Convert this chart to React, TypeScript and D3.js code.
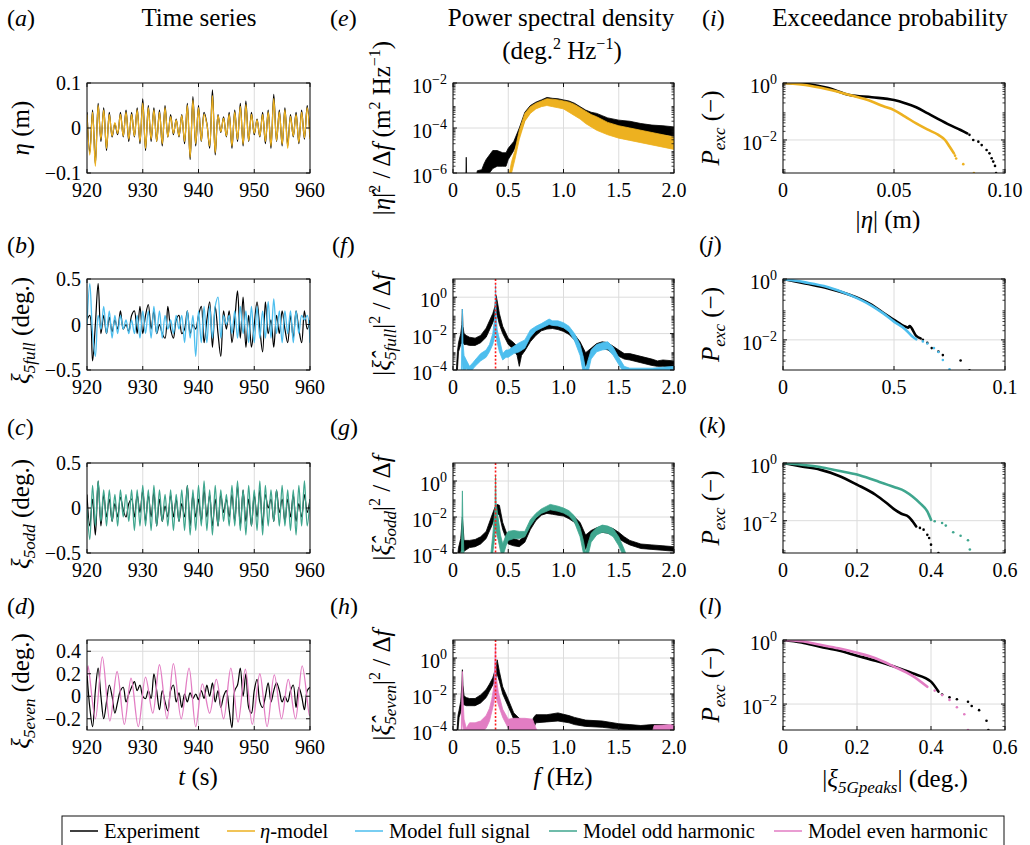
import React from "react";
import * as d3 from "d3";

const FONT = '"Liberation Serif", "DejaVu Serif", "Noto Serif", serif';

const C_EXP = "#000000";
const C_ETA = "#EDB120";
const C_FULL = "#4DBEEE";
const C_ODD = "#3FA68E";
const C_EVEN = "#E27DC3";
const C_RED = "#FF1A1A";

// ---------------- Time series (sampled every 0.5 s from 920 s) ----------------
const T_START = 920;
const T_STEP = 0.5;

const etaExp = [
  0.035, -0.055, 0.04, -0.08, 0.055, -0.03, 0.045, -0.05, 0.035, -0.02,
  0.01, -0.015, 0.035, -0.02, 0.04, -0.03, 0.035, -0.02, 0.045, -0.035,
  0.065, -0.05, 0.05, -0.03, 0.045, -0.03, 0.04, -0.04, 0.05, -0.02,
  0.03, -0.015, 0.02, -0.02, 0.03, -0.035, 0.055, -0.07, 0.07, -0.04,
  0.05, -0.03, 0.035, 0.01, -0.045, 0.085, -0.06, 0.03, -0.01, 0.025,
  -0.02, 0.035, -0.045, 0.04, -0.03, 0.055, -0.04, 0.06, -0.03, 0.035,
  -0.015, 0.02, -0.02, 0.035, -0.035, 0.04, -0.045, 0.075, -0.03, 0.04,
  -0.04, 0.045, -0.04, 0.03, -0.02, 0.035, -0.035, 0.04, -0.025, 0.05,
  -0.02,
];
const etaModel = [
  0.03, -0.06, 0.035, -0.085, 0.05, -0.025, 0.04, -0.045, 0.03, -0.018,
  0.012, -0.012, 0.03, -0.018, 0.035, -0.025, 0.03, -0.018, 0.04, -0.03,
  0.055, -0.045, 0.045, -0.025, 0.04, -0.03, 0.035, -0.035, 0.045, -0.02,
  0.025, -0.012, 0.018, -0.018, 0.028, -0.03, 0.05, -0.065, 0.062, -0.035,
  0.045, -0.028, 0.03, 0.008, -0.04, 0.072, -0.055, 0.028, -0.008, 0.022,
  -0.018, 0.03, -0.04, 0.036, -0.026, 0.048, -0.036, 0.052, -0.028, 0.03,
  -0.012, 0.018, -0.018, 0.03, -0.03, 0.036, -0.04, 0.065, -0.028, 0.036,
  -0.036, 0.04, -0.045, 0.026, -0.018, 0.03, -0.032, 0.035, -0.022, 0.045,
  -0.025,
];
const fullExp = [
  0.05, 0.1, -0.4, 0.0, 0.45, -0.1, 0.1, -0.1, 0.08, -0.08,
  0.05, -0.05, 0.15, -0.05, 0.0, -0.08, 0.1, 0.15, -0.1, 0.2,
  -0.1, 0.1, 0.22, -0.05, 0.15, -0.1, 0.0, -0.1, -0.15, 0.2,
  -0.05, -0.15, 0.05, 0.1, -0.1, -0.05, 0.15, -0.1, 0.0, -0.05,
  0.1, 0.2, -0.2, 0.05, 0.25, -0.25, 0.2, -0.1, -0.35, 0.15,
  -0.05, 0.15, -0.2, 0.05, 0.37, -0.15, 0.3, -0.25, 0.1, -0.25,
  0.0, 0.25, -0.05, -0.3, 0.25, -0.1, 0.05, -0.25, 0.1, -0.1,
  0.15, -0.05, -0.2, 0.1, -0.15, 0.15, -0.05, -0.2, 0.15, -0.05,
  0.05,
];
const fullModel = [
  0.0, 0.45, -0.1, -0.35, 0.1, -0.05, 0.2, -0.1, 0.15, -0.15,
  0.1, -0.1, 0.1, -0.05, 0.05, -0.1, 0.05, -0.1, 0.1, -0.15,
  0.15, -0.1, 0.15, -0.15, 0.2, -0.1, 0.15, -0.15, 0.1, -0.05,
  0.05, -0.1, 0.1, -0.05, 0.1, -0.2, 0.15, -0.15, 0.1, -0.35,
  0.15, -0.2, 0.2, -0.2, 0.2, -0.15, 0.2, 0.3, -0.15, 0.1,
  0.0, 0.1, -0.1, 0.15, -0.15, 0.2, -0.1, 0.15, -0.2, 0.2,
  -0.2, 0.2, -0.15, 0.15, -0.15, 0.25, -0.15, 0.28, -0.1, 0.15,
  -0.2, 0.15, -0.1, 0.15, -0.2, 0.15, -0.1, 0.1, 0.05, 0.1,
  -0.2,
];
const oddExp = [
  0.15, -0.2, 0.1, -0.3, 0.3, -0.2, 0.15, -0.1, 0.1, -0.15,
  0.05, -0.1, 0.12, -0.02, -0.1, 0.05, 0.1, -0.1, 0.15, -0.05,
  0.2, -0.15, 0.15, -0.1, 0.18, -0.2, 0.1, -0.15, 0.02, -0.1,
  0.15, -0.1, 0.1, -0.15, 0.05, -0.1, 0.25, -0.2, 0.15, -0.1,
  0.1, -0.15, 0.2, -0.1, 0.15, -0.2, 0.1, -0.2, 0.15, -0.05,
  0.1, -0.1, 0.15, -0.15, 0.25, -0.2, 0.2, -0.15, 0.1, -0.2,
  0.15, -0.1, 0.2, -0.2, 0.15, 0.0, 0.1, -0.15, 0.2, -0.05,
  0.1, -0.15, 0.1, -0.1, 0.15, -0.15, 0.05, -0.1, 0.15, -0.05,
  0.1,
];
const oddModel = [
  0.0, -0.35, 0.25, -0.2, 0.3, -0.15, 0.2, -0.2, 0.2, -0.15,
  0.15, -0.2, 0.2, -0.1, 0.15, -0.15, 0.2, -0.25, 0.2, -0.2,
  0.25, -0.2, 0.2, -0.25, 0.25, -0.2, 0.2, -0.15, 0.15, -0.2,
  0.2, -0.25, 0.15, -0.15, 0.2, -0.25, 0.25, -0.3, 0.2, -0.25,
  0.25, -0.2, 0.3, -0.25, 0.2, -0.3, 0.25, -0.2, 0.2, -0.15,
  0.15, -0.2, 0.25, -0.2, 0.3, -0.25, 0.2, -0.3, 0.25, -0.2,
  0.2, -0.25, 0.3, -0.3, 0.25, -0.2, 0.2, -0.15, 0.2, -0.2,
  0.25, -0.2, 0.2, -0.25, 0.2, -0.3, 0.25, -0.2, 0.3, -0.2,
  0.1,
];
const evenExp = [
  0.2, -0.1, -0.27, 0.05, 0.25, 0.0, -0.2, -0.05, 0.1, 0.0,
  -0.15, -0.05, 0.05, 0.08, -0.05, 0.02, 0.08, 0.13, 0.05, 0.1,
  0.0, -0.02, 0.05, -0.02, 0.2, 0.05, -0.12, 0.05, -0.05, -0.13,
  0.05, 0.1, -0.05, 0.03, -0.1, 0.02, -0.05, 0.03, -0.02, 0.02,
  -0.03, 0.05, -0.02, 0.1, 0.0, 0.12, -0.05, 0.05, -0.1, 0.0,
  0.05, -0.12, -0.28, 0.05, 0.1, 0.25, 0.0, 0.2, -0.1, -0.15,
  0.05, 0.15, -0.05, -0.1, 0.0, 0.12, -0.05, 0.05, 0.12, 0.05,
  -0.05, 0.0, -0.05, 0.05, 0.1, -0.1, 0.08, 0.0, -0.12, 0.05,
  0.08,
];
// even-harmonic model: peaks and troughs [t (s), value (deg.)]
const evenModel: [number, number][] = [
  [920, 0.18], [920.2, 0.27], [921.5, -0.2], [922.75, 0.35], [924.1, -0.22],
  [925.4, 0.22], [926.7, -0.25], [927.9, 0.16], [929.2, -0.27], [930.5, 0.17],
  [931.8, -0.15], [933.0, 0.28], [934.35, -0.2], [935.5, 0.29], [936.9, -0.2],
  [938.3, 0.25], [939.5, -0.27], [940.7, 0.11], [942.0, -0.15], [943.2, 0.15],
  [944.5, -0.2], [945.8, 0.25], [947.1, -0.23], [948.4, 0.24], [949.65, -0.25],
  [951.0, 0.2], [952.3, -0.27], [953.6, 0.19], [954.9, -0.2], [956.1, 0.15],
  [957.4, -0.2], [958.6, 0.27], [959.9, -0.17], [960, -0.16],
];

// ---------------- PSD bands [f (Hz), log10 lower, log10 upper] ----------------
type Band = [number, number, number][];
const psdEtaExp: Band = [
  [0.0, -6.5, -6.5], [0.115, -6.5, -6.5], [0.12, -6.5, -5.3], [0.125, -6.5, -6.5],
  [0.2, -6.5, -6.5], [0.22, -6.5, -5.9], [0.26, -6.5, -5.85], [0.28, -6.5, -5.6],
  [0.3, -6.2, -5.4], [0.33, -6.0, -5.2], [0.36, -5.8, -5.0], [0.4, -5.7, -5.0],
  [0.45, -5.7, -5.1], [0.48, -5.7, -5.1], [0.5, -5.4, -4.9], [0.55, -5.0, -4.6],
  [0.6, -4.35, -4.0], [0.65, -3.65, -3.3], [0.7, -3.3, -3.0], [0.75, -3.1, -2.85],
  [0.8, -3.0, -2.75], [0.85, -2.95, -2.64], [0.9, -3.0, -2.68], [0.95, -3.0, -2.7],
  [1.0, -3.05, -2.75], [1.05, -3.15, -2.8], [1.1, -3.3, -2.9], [1.15, -3.45, -3.05],
  [1.2, -3.6, -3.2], [1.25, -3.7, -3.3], [1.3, -3.8, -3.35], [1.35, -3.85, -3.45],
  [1.4, -3.95, -3.55], [1.5, -4.05, -3.65], [1.6, -4.1, -3.7], [1.7, -4.2, -3.8],
  [1.8, -4.25, -3.87], [1.9, -4.3, -3.9], [2.0, -4.35, -3.95],
];
const psdEtaModel: Band = [
  [0.51, -6.5, -6.0], [0.53, -6.0, -5.5], [0.56, -5.4, -5.0], [0.6, -4.5, -4.1],
  [0.65, -3.7, -3.35], [0.7, -3.35, -3.05], [0.75, -3.15, -2.9], [0.8, -3.05, -2.8],
  [0.85, -3.0, -2.7], [0.9, -3.05, -2.72], [0.95, -3.1, -2.75], [1.0, -3.15, -2.8],
  [1.05, -3.3, -2.85], [1.1, -3.45, -2.95], [1.15, -3.6, -3.1], [1.2, -3.8, -3.25],
  [1.25, -3.95, -3.4], [1.3, -4.1, -3.5], [1.4, -4.3, -3.75], [1.5, -4.45, -3.9],
  [1.6, -4.55, -4.0], [1.7, -4.65, -4.1], [1.8, -4.75, -4.2], [1.9, -4.85, -4.3],
  [2.0, -4.95, -4.4],
];
const psdFullExp: Band = [
  [0.0, -4.5, -4.5], [0.03, -4.5, -4.1], [0.04, -4.0, -3.0], [0.05, -3.0, -2.5],
  [0.07, -2.6, -2.0], [0.08, -2.5, -1.5], [0.085, -2.4, -0.65], [0.09, -2.5, -1.6],
  [0.1, -2.6, -2.0], [0.12, -2.6, -2.1], [0.15, -2.65, -2.2], [0.2, -2.65, -2.25],
  [0.25, -2.5, -2.1], [0.3, -2.2, -1.7], [0.33, -1.8, -1.3], [0.36, -1.4, -0.9],
  [0.38, -1.1, -0.5], [0.39, -0.9, 0.1], [0.4, -1.0, -0.2], [0.42, -1.5, -0.9],
  [0.45, -2.0, -1.6], [0.5, -2.6, -2.25], [0.55, -2.9, -2.5], [0.58, -3.2, -2.7],
  [0.6, -3.8, -2.9], [0.62, -3.2, -2.8], [0.65, -2.95, -2.6], [0.7, -2.45, -2.05],
  [0.75, -2.1, -1.8], [0.8, -1.85, -1.6], [0.85, -1.75, -1.5], [0.9, -1.72, -1.45],
  [0.95, -1.78, -1.5], [1.0, -1.88, -1.6], [1.05, -2.05, -1.8], [1.1, -2.35, -2.05],
  [1.15, -2.9, -2.45], [1.2, -3.8, -3.05], [1.25, -3.2, -2.8], [1.3, -2.9, -2.55],
  [1.35, -2.8, -2.45], [1.4, -2.9, -2.5], [1.45, -3.1, -2.7], [1.5, -3.25, -2.9],
  [1.55, -3.4, -3.1], [1.6, -3.45, -3.1], [1.7, -3.6, -3.25], [1.8, -3.75, -3.4],
  [1.85, -3.8, -3.5], [1.9, -3.8, -3.45], [2.0, -3.85, -3.5],
];
const psdFullModel: Band = [
  [0.0, -4.5, -4.5], [0.075, -4.5, -4.2], [0.08, -4.2, -2.5], [0.085, -3.5, -0.65],
  [0.09, -4.0, -2.5], [0.1, -4.2, -3.2], [0.12, -3.9, -3.45], [0.15, -4.2, -3.8],
  [0.18, -3.95, -3.6], [0.2, -3.8, -3.45], [0.25, -3.5, -3.1], [0.3, -3.3, -2.9],
  [0.33, -3.0, -2.6], [0.36, -2.6, -2.0], [0.38, -2.1, -1.0], [0.385, -1.8, 0.65],
  [0.39, -2.1, -0.8], [0.4, -2.5, -1.8], [0.42, -3.0, -2.3], [0.45, -3.45, -3.1],
  [0.48, -3.3, -2.9], [0.5, -3.3, -2.9], [0.55, -3.1, -2.7], [0.6, -3.0, -2.5],
  [0.65, -2.8, -2.35], [0.7, -2.2, -1.8], [0.75, -1.85, -1.6], [0.8, -1.7, -1.45],
  [0.87, -1.5, -1.2], [0.9, -1.55, -1.3], [0.95, -1.58, -1.3], [1.0, -1.68, -1.4],
  [1.05, -1.9, -1.6], [1.1, -2.4, -2.0], [1.15, -3.2, -2.6], [1.18, -4.2, -3.3],
  [1.2, -4.5, -4.0], [1.22, -4.2, -3.5], [1.25, -3.4, -2.9], [1.3, -3.0, -2.6],
  [1.35, -2.9, -2.5], [1.4, -2.85, -2.45], [1.45, -3.2, -2.75], [1.5, -3.7, -3.3],
  [1.55, -4.2, -3.8], [1.6, -4.2, -3.9], [1.8, -4.2, -3.9], [2.0, -4.2, -3.8],
];
const psdOddExp: Band = [
  [0.0, -4.5, -4.5], [0.04, -4.5, -4.2], [0.05, -4.2, -3.7], [0.07, -3.9, -3.2],
  [0.085, -3.8, -2.0], [0.1, -3.9, -3.3], [0.15, -3.7, -3.3], [0.2, -3.65, -3.25],
  [0.25, -3.5, -3.1], [0.3, -3.2, -2.8], [0.35, -2.5, -1.95], [0.38, -2.0, -1.45],
  [0.4, -1.8, -1.3], [0.42, -1.9, -1.35], [0.45, -2.7, -2.3], [0.5, -3.5, -3.15],
  [0.55, -3.6, -3.2], [0.6, -3.65, -3.3], [0.65, -3.4, -3.05], [0.7, -2.7, -2.3],
  [0.75, -2.2, -1.9], [0.8, -1.9, -1.65], [0.85, -1.8, -1.55], [0.9, -1.85, -1.55],
  [0.95, -1.9, -1.6], [1.0, -1.95, -1.65], [1.05, -2.1, -1.8], [1.1, -2.3, -2.0],
  [1.15, -2.8, -2.3], [1.2, -3.8, -3.0], [1.25, -3.1, -2.75], [1.3, -2.9, -2.6],
  [1.35, -2.85, -2.5], [1.4, -2.9, -2.55], [1.45, -3.0, -2.65], [1.5, -3.2, -2.85],
  [1.55, -3.4, -3.1], [1.6, -3.55, -3.3], [1.7, -3.75, -3.5], [1.8, -3.8, -3.55],
  [1.9, -3.85, -3.6], [2.0, -3.9, -3.65],
];
const psdOddModel: Band = [
  [0.0, -4.5, -4.5], [0.075, -4.5, -4.3], [0.08, -4.2, -2.5], [0.085, -3.6, -0.55],
  [0.09, -4.2, -2.5], [0.1, -4.5, -4.2], [0.34, -4.5, -4.2], [0.36, -4.0, -3.0],
  [0.38, -3.0, -1.5], [0.385, -2.5, 0.3], [0.39, -2.8, -1.2], [0.41, -3.3, -2.1],
  [0.43, -3.9, -3.0], [0.45, -4.2, -3.5], [0.48, -3.6, -3.0], [0.5, -3.3, -2.8],
  [0.55, -3.2, -2.75], [0.6, -3.2, -2.8], [0.65, -3.1, -2.8], [0.7, -2.5, -2.15],
  [0.75, -2.05, -1.8], [0.8, -1.8, -1.55], [0.88, -1.6, -1.3], [0.95, -1.68, -1.4],
  [1.0, -1.78, -1.5], [1.05, -1.95, -1.65], [1.1, -2.3, -1.95], [1.15, -3.1, -2.6],
  [1.18, -4.0, -3.3], [1.2, -4.5, -4.0], [1.22, -4.2, -3.5], [1.25, -3.4, -2.9],
  [1.3, -3.0, -2.6], [1.35, -2.85, -2.45], [1.4, -2.9, -2.5], [1.45, -3.1, -2.65],
  [1.5, -3.6, -3.1], [1.55, -4.3, -3.8], [1.58, -4.5, -4.3], [2.0, -4.5, -4.3],
];
const psdEvenExp: Band = [
  [0.0, -4.5, -4.5], [0.035, -4.5, -4.2], [0.045, -4.0, -3.2], [0.055, -3.3, -2.9],
  [0.07, -3.0, -2.4], [0.08, -2.7, -1.5], [0.085, -2.5, -0.65], [0.09, -2.6, -1.5],
  [0.1, -2.6, -2.1], [0.12, -2.65, -2.2], [0.15, -2.65, -2.25], [0.2, -2.65, -2.25],
  [0.25, -2.5, -2.05], [0.3, -2.2, -1.75], [0.33, -1.85, -1.45], [0.36, -1.5, -1.1],
  [0.38, -1.2, -0.7], [0.4, -0.9, -0.1], [0.42, -1.3, -0.75], [0.45, -2.0, -1.6],
  [0.5, -2.7, -2.3], [0.55, -3.4, -3.05], [0.6, -3.7, -3.35], [0.65, -3.95, -3.6],
  [0.7, -4.5, -3.7], [0.73, -3.9, -3.3], [0.75, -3.6, -3.15], [0.85, -3.55, -3.15],
  [0.95, -3.5, -3.05], [1.05, -3.6, -3.2], [1.1, -3.7, -3.3], [1.2, -3.8, -3.45],
  [1.35, -3.85, -3.5], [1.5, -3.95, -3.65], [1.6, -4.0, -3.7], [1.7, -4.0, -3.75],
  [1.8, -4.0, -3.7], [1.9, -4.0, -3.7], [2.0, -4.0, -3.75],
];
const psdEvenModel: Band = [
  [0.0, -4.5, -4.5], [0.075, -4.5, -4.2], [0.08, -4.0, -2.0], [0.085, -3.4, -0.75],
  [0.09, -3.8, -2.2], [0.1, -4.2, -3.4], [0.12, -4.5, -3.9], [0.15, -4.5, -3.6],
  [0.2, -4.3, -3.6], [0.25, -4.2, -3.5], [0.3, -3.9, -3.2], [0.33, -3.5, -2.8],
  [0.35, -3.0, -2.3], [0.37, -2.5, -1.6], [0.385, -1.8, 0.8], [0.39, -2.2, -1.0],
  [0.41, -2.6, -1.9], [0.45, -3.3, -2.85], [0.5, -3.9, -3.4], [0.55, -4.2, -3.35],
  [0.65, -4.2, -3.35], [0.72, -4.2, -3.4], [0.75, -4.5, -3.9], [0.78, -4.5, -4.2],
  [1.8, -4.5, -4.2], [1.82, -4.3, -3.75], [2.0, -4.3, -3.7],
];
const F_MOTION = 0.385; // red dotted marker (Hz)

// ---------------- Exceedance probability [value, log10 P] ----------------
type Pts = [number, number][];
const excEtaExp: Pts = [
  [0, 0], [0.01, -0.03], [0.02, -0.17], [0.03, -0.42], [0.04, -0.5], [0.05, -0.6],
  [0.055, -0.71], [0.06, -0.85], [0.065, -1.06], [0.07, -1.27], [0.075, -1.47],
  [0.08, -1.65], [0.083, -1.77],
];
const excEtaExpTail: Pts = [
  [0.084, -1.82], [0.0857, -2.0], [0.088, -2.06], [0.0895, -2.18], [0.0917, -2.35],
  [0.093, -2.47], [0.094, -2.64], [0.0947, -2.76], [0.0955, -2.91], [0.096, -3.16],
];
const excEtaModel: Pts = [
  [0, 0], [0.01, -0.07], [0.02, -0.22], [0.03, -0.42], [0.04, -0.65], [0.045, -0.81],
  [0.05, -0.95], [0.055, -1.18], [0.06, -1.42], [0.065, -1.63], [0.07, -1.82],
  [0.073, -2.0], [0.075, -2.23], [0.077, -2.47],
];
const excEtaModelTail: Pts = [
  [0.0775, -2.55], [0.078, -2.65], [0.0812, -2.85], [0.086, -3.16],
];
const excFullExp: Pts = [
  [0, 0], [0.1, -0.15], [0.2, -0.3], [0.3, -0.52], [0.35, -0.66], [0.4, -0.85],
  [0.45, -1.1], [0.5, -1.34], [0.55, -1.56], [0.565, -1.6], [0.57, -1.55],
  [0.6, -1.87], [0.62, -1.95],
];
const excFullExpTail: Pts = [
  [0.63, -2.0], [0.65, -2.1], [0.67, -2.27], [0.7, -2.38], [0.72, -2.5],
  [0.8, -2.68], [0.84, -3.0],
];
const excFullModel: Pts = [
  [0, 0], [0.1, -0.11], [0.2, -0.26], [0.3, -0.52], [0.4, -0.88], [0.45, -1.12],
  [0.5, -1.4], [0.55, -1.65], [0.58, -1.87], [0.6, -1.98],
];
const excFullModelTail: Pts = [
  [0.63, -2.05], [0.65, -2.12], [0.68, -2.27], [0.7, -2.4], [0.72, -2.66], [0.75, -2.97],
];
const excOddExp: Pts = [
  [0, 0], [0.05, -0.12], [0.1, -0.23], [0.15, -0.44], [0.2, -0.75], [0.25, -1.1],
  [0.28, -1.39], [0.3, -1.6], [0.32, -1.76], [0.34, -1.87], [0.35, -2.02], [0.36, -2.2],
];
const excOddExpTail: Pts = [
  [0.37, -2.25], [0.38, -2.31], [0.39, -2.49], [0.395, -2.6], [0.4, -2.83], [0.42, -3.12],
];
const excOddModel: Pts = [
  [0, 0], [0.05, -0.06], [0.1, -0.14], [0.15, -0.27], [0.2, -0.4], [0.25, -0.61],
  [0.3, -0.83], [0.33, -0.98], [0.35, -1.16], [0.37, -1.39], [0.39, -1.68], [0.4, -1.97],
];
const excOddModelTail: Pts = [
  [0.41, -2.02], [0.43, -2.08], [0.44, -2.17], [0.46, -2.4], [0.48, -2.52],
  [0.5, -2.68], [0.505, -3.0],
];
const excEvenExp: Pts = [
  [0, 0], [0.05, -0.08], [0.1, -0.21], [0.15, -0.33], [0.2, -0.49], [0.25, -0.65],
  [0.3, -0.83], [0.35, -1.04], [0.4, -1.3], [0.42, -1.61],
];
const excEvenExpTail: Pts = [
  [0.43, -1.7], [0.45, -1.79], [0.47, -1.85], [0.5, -1.93], [0.51, -2.06],
  [0.53, -2.19], [0.55, -2.52], [0.555, -2.81],
];
const excEvenModel: Pts = [
  [0, 0], [0.05, -0.04], [0.1, -0.15], [0.15, -0.26], [0.2, -0.4], [0.25, -0.57],
  [0.3, -0.83], [0.35, -1.12], [0.39, -1.46],
];
const excEvenModelTail: Pts = [
  [0.41, -1.58], [0.43, -1.72], [0.45, -1.87], [0.47, -2.1], [0.49, -2.32], [0.5, -2.81],
];

// ---------------- Tick labels ----------------
const timeTicks = [920, 930, 940, 950, 960];
const freqTicks = [0, 0.5, 1.0, 1.5, 2.0];
const freqTickLabels = ["0", "0.5", "1.0", "1.5", "2.0"];

// ---------------- Layout ----------------
const COLS = [
  { x0: 87, x1: 310 },
  { x0: 453, x1: 674 },
  { x0: 783, x1: 1005 },
];
const ROWS = [
  { y0: 83, y1: 173 },
  { y0: 279, y1: 370 },
  { y0: 463, y1: 553 },
  { y0: 640, y1: 730 },
];

type Tick = { v: number; label?: React.ReactNode };

const pow10 = (e: number) => (
  <>
    <tspan>10</tspan>
    <tspan dy={-9} fontSize={14}>
      {e < 0 ? "\u2212" + -e : String(e)}
    </tspan>
  </>
);

function Panel(props: {
  id: string;
  col: number;
  row: number;
  xDomain: [number, number];
  yDomain: [number, number];
  logY?: boolean;
  xTicks: Tick[];
  yTicks: Tick[];
  render: (x: any, y: any) => React.ReactNode;
}) {
  const { x0, x1 } = COLS[props.col];
  const { y0, y1 } = ROWS[props.row];
  const x = d3.scaleLinear().domain(props.xDomain).range([x0, x1]);
  const y = (props.logY ? d3.scaleLog() : d3.scaleLinear())
    .domain(props.yDomain)
    .range([y1, y0]);
  const minor: number[] = [];
  if (props.logY) {
    const [a, b] = props.yDomain;
    for (let e = Math.floor(Math.log10(a)); e <= Math.ceil(Math.log10(b)); e++) {
      for (let m = 2; m <= 9; m++) {
        const v = m * Math.pow(10, e);
        if (v > a && v < b) minor.push(v);
      }
    }
  }
  const TL = 4;
  const grid = "#dcdcdc";
  return (
    <g>
      <defs>
        <clipPath id={props.id}>
          <rect x={x0} y={y0} width={x1 - x0} height={y1 - y0} />
        </clipPath>
      </defs>
      {props.xTicks.map((t, i) => (
        <line key={"gx" + i} x1={x(t.v)} x2={x(t.v)} y1={y0} y2={y1} stroke={grid} strokeWidth={1} />
      ))}
      {props.yTicks.map((t, i) => (
        <line key={"gy" + i} x1={x0} x2={x1} y1={y(t.v)} y2={y(t.v)} stroke={grid} strokeWidth={1} />
      ))}
      <g clipPath={`url(#${props.id})`}>{props.render(x, y)}</g>
      <rect x={x0} y={y0} width={x1 - x0} height={y1 - y0} fill="none" stroke="#111" strokeWidth={1} />
      {props.xTicks.map((t, i) => (
        <g key={"tx" + i}>
          <line x1={x(t.v)} x2={x(t.v)} y1={y1} y2={y1 - TL} stroke="#111" />
          <line x1={x(t.v)} x2={x(t.v)} y1={y0} y2={y0 + TL} stroke="#111" />
        </g>
      ))}
      {props.yTicks.map((t, i) => (
        <g key={"ty" + i}>
          <line x1={x0} x2={x0 + TL} y1={y(t.v)} y2={y(t.v)} stroke="#111" />
          <line x1={x1} x2={x1 - TL} y1={y(t.v)} y2={y(t.v)} stroke="#111" />
        </g>
      ))}
      {minor.map((v, i) => (
        <g key={"tm" + i}>
          <line x1={x0} x2={x0 + 2.5} y1={y(v)} y2={y(v)} stroke="#111" strokeWidth={0.8} />
          <line x1={x1} x2={x1 - 2.5} y1={y(v)} y2={y(v)} stroke="#111" strokeWidth={0.8} />
        </g>
      ))}
      {props.xTicks.map((t, i) =>
        t.label !== undefined ? (
          <text key={"lx" + i} x={x(t.v)} y={y1 + 24} textAnchor="middle" fontSize={20}>
            {t.label}
          </text>
        ) : null
      )}
      {props.yTicks.map((t, i) =>
        t.label !== undefined ? (
          <text
            key={"ly" + i}
            x={x0 - 6}
            y={y(t.v) + (props.logY ? 10 : 7)}
            textAnchor="end"
            fontSize={20}
          >
            {t.label}
          </text>
        ) : null
      )}
    </g>
  );
}

const seriesPts = (vals: number[]): [number, number][] =>
  vals.map((v, i) => [T_START + i * T_STEP, v]);

function TimeLines({ x, y, exp, model, color }: any) {
  const line = d3
    .line<[number, number]>()
    .x((d) => x(d[0]))
    .y((d) => y(d[1]))
    .curve(d3.curveCatmullRom.alpha(0.5));
  return (
    <>
      <path d={line(exp) || ""} fill="none" stroke={C_EXP} strokeWidth={1.2} />
      <path d={line(model) || ""} fill="none" stroke={color} strokeWidth={1.3} />
    </>
  );
}

function PsdBands({ x, y, exp, model, color, marker }: any) {
  const area = d3
    .area<[number, number, number]>()
    .x((d) => x(d[0]))
    .y0((d) => y(Math.pow(10, d[1])))
    .y1((d) => y(Math.pow(10, d[2])));
  const [yb, yt] = y.range();
  return (
    <>
      <path d={area(exp) || ""} fill={C_EXP} stroke={C_EXP} strokeWidth={0.8} />
      <path d={area(model) || ""} fill={color} stroke={color} strokeWidth={0.8} />
      {marker ? (
        <line
          x1={x(F_MOTION)}
          x2={x(F_MOTION)}
          y1={yt}
          y2={yb}
          stroke={C_RED}
          strokeWidth={1.6}
          strokeDasharray="2,1.8"
        />
      ) : null}
    </>
  );
}

function ExcCurves({ x, y, exp, expTail, model, modelTail, color }: any) {
  const line = d3
    .line<[number, number]>()
    .x((d) => x(d[0]))
    .y((d) => y(Math.pow(10, d[1])))
    .curve(d3.curveMonotoneX);
  return (
    <>
      <path d={line(exp) || ""} fill="none" stroke={C_EXP} strokeWidth={2.6} strokeLinecap="round" />
      {expTail.map((d: [number, number], i: number) => (
        <circle key={"e" + i} cx={x(d[0])} cy={y(Math.pow(10, d[1]))} r={1.3} fill={C_EXP} />
      ))}
      <path d={line(model) || ""} fill="none" stroke={color} strokeWidth={2.6} strokeLinecap="round" />
      {modelTail.map((d: [number, number], i: number) => (
        <circle key={"m" + i} cx={x(d[0])} cy={y(Math.pow(10, d[1]))} r={1.3} fill={color} />
      ))}
    </>
  );
}

// subscript s followed by normal text `after`
const sub = (s: string, after: string) => (
  <>
    <tspan dy={6} fontSize={17} fontStyle="italic">
      {s}
    </tspan>
    <tspan dy={-6}>{after}</tspan>
  </>
);
// superscript s followed by normal text `after`
const sup = (s: string, after: string) => (
  <>
    <tspan dy={-10} fontSize={16}>
      {s}
    </tspan>
    <tspan dy={10}>{after}</tspan>
  </>
);

function YLabel({ x, y, children }: any) {
  return (
    <text transform={`translate(${x},${y}) rotate(-90)`} textAnchor="middle" fontSize={25}>
      {children}
    </text>
  );
}

export default function App() {
  const timeXTicks: Tick[] = timeTicks.map((v) => ({ v, label: String(v) }));
  const freqXTicks: Tick[] = freqTicks.map((v, i) => ({ v, label: freqTickLabels[i] }));
  const psdYTicksTop: Tick[] = [-2, -4, -6].map((e) => ({ v: Math.pow(10, e), label: pow10(e) }));
  const psdYTicks: Tick[] = [0, -2, -4].map((e) => ({ v: Math.pow(10, e), label: pow10(e) }));
  const excYTicks: Tick[] = [0, -2].map((e) => ({ v: Math.pow(10, e), label: pow10(e) }));

  const rowMid = ROWS.map((r) => (r.y0 + r.y1) / 2);
  const legendItems = [
    { c: C_EXP, x: 70, tx: 104, label: <tspan>Experiment</tspan> },
    { c: C_ETA, x: 227, tx: 260, label: <><tspan fontStyle="italic">η</tspan><tspan>-model</tspan></> },
    { c: C_FULL, x: 355, tx: 389, label: <tspan>Model full signal</tspan> },
    { c: C_ODD, x: 549, tx: 583, label: <tspan>Model odd harmonic</tspan> },
    { c: C_EVEN, x: 774, tx: 808, label: <tspan>Model even harmonic</tspan> },
  ];

  return (
    <svg
      width={1030}
      height={845}
      fontFamily={FONT}
      style={{ position: "absolute", left: 0, top: 0, background: "#fff" }}
      fill="#000"
    >
      <rect x={0} y={0} width={1030} height={845} fill="#fff" />

      {/* Column titles */}
      <text x={199} y={26} textAnchor="middle" fontSize={25}>Time series</text>
      <text x={561} y={26} textAnchor="middle" fontSize={25}>Power spectral density</text>
      <text x={562} y={59} textAnchor="middle" fontSize={25}>
        <tspan>(deg.</tspan>{sup("2", " Hz")}{sup("\u22121", ")")}
      </text>
      <text x={890} y={26} textAnchor="middle" fontSize={25}>Exceedance probability</text>

      {/* Panel letters */}
      {[
        ["a", 7, 26], ["e", 330, 26], ["i", 702, 26],
        ["b", 7, 253], ["f", 332, 253], ["j", 699, 252],
        ["c", 7, 435], ["g", 330, 435], ["k", 699, 433],
        ["d", 7, 614], ["h", 330, 614], ["l", 699, 614],
      ].map(([l, x, y]) => (
        <text key={l as string} x={x as number} y={y as number} fontSize={24}>
          <tspan>(</tspan><tspan fontStyle="italic">{l}</tspan><tspan>)</tspan>
        </text>
      ))}

      {/* ---------- Column 1: time series ---------- */}
      <Panel
        id="pa" col={0} row={0} xDomain={[920, 960]} yDomain={[-0.1, 0.1]}
        xTicks={timeXTicks}
        yTicks={[{ v: 0.1, label: "0.1" }, { v: 0, label: "0" }, { v: -0.1, label: "\u22120.1" }]}
        render={(x, y) => <TimeLines x={x} y={y} exp={seriesPts(etaExp)} model={seriesPts(etaModel)} color={C_ETA} />}
      />
      <Panel
        id="pb" col={0} row={1} xDomain={[920, 960]} yDomain={[-0.5, 0.5]}
        xTicks={timeXTicks}
        yTicks={[{ v: 0.5, label: "0.5" }, { v: 0, label: "0" }, { v: -0.5, label: "\u22120.5" }]}
        render={(x, y) => <TimeLines x={x} y={y} exp={seriesPts(fullExp)} model={seriesPts(fullModel)} color={C_FULL} />}
      />
      <Panel
        id="pc" col={0} row={2} xDomain={[920, 960]} yDomain={[-0.5, 0.5]}
        xTicks={timeXTicks}
        yTicks={[{ v: 0.5, label: "0.5" }, { v: 0, label: "0" }, { v: -0.5, label: "\u22120.5" }]}
        render={(x, y) => <TimeLines x={x} y={y} exp={seriesPts(oddExp)} model={seriesPts(oddModel)} color={C_ODD} />}
      />
      <Panel
        id="pd" col={0} row={3} xDomain={[920, 960]} yDomain={[-0.3, 0.5]}
        xTicks={timeXTicks}
        yTicks={[
          { v: 0.4, label: "0.4" }, { v: 0.2, label: "0.2" }, { v: 0, label: "0" },
          { v: -0.2, label: "\u22120.2" },
        ]}
        render={(x, y) => <TimeLines x={x} y={y} exp={seriesPts(evenExp)} model={evenModel} color={C_EVEN} />}
      />

      <YLabel x={29} y={rowMid[0]}>
        <tspan fontStyle="italic">η</tspan><tspan> (m)</tspan>
      </YLabel>
      <YLabel x={29} y={rowMid[1] + 6}>
        <tspan fontStyle="italic">ξ</tspan>{sub("5full", " (deg.)")}
      </YLabel>
      <YLabel x={29} y={rowMid[2] + 6}>
        <tspan fontStyle="italic">ξ</tspan>{sub("5odd", " (deg.)")}
      </YLabel>
      <YLabel x={29} y={rowMid[3] + 6}>
        <tspan fontStyle="italic">ξ</tspan>{sub("5even", " (deg.)")}
      </YLabel>
      <text x={198} y={785} textAnchor="middle" fontSize={25}>
        <tspan fontStyle="italic">t</tspan><tspan> (s)</tspan>
      </text>

      {/* ---------- Column 2: PSD ---------- */}
      <Panel
        id="pe" col={1} row={0} xDomain={[0, 2]} yDomain={[1e-6, 1e-2]} logY
        xTicks={freqXTicks} yTicks={psdYTicksTop}
        render={(x, y) => <PsdBands x={x} y={y} exp={psdEtaExp} model={psdEtaModel} color={C_ETA} />}
      />
      <Panel
        id="pf" col={1} row={1} xDomain={[0, 2]} yDomain={[1e-4, 1e1]} logY
        xTicks={freqXTicks} yTicks={psdYTicks}
        render={(x, y) => <PsdBands x={x} y={y} exp={psdFullExp} model={psdFullModel} color={C_FULL} marker />}
      />
      <Panel
        id="pg" col={1} row={2} xDomain={[0, 2]} yDomain={[1e-4, 1e1]} logY
        xTicks={freqXTicks} yTicks={psdYTicks}
        render={(x, y) => <PsdBands x={x} y={y} exp={psdOddExp} model={psdOddModel} color={C_ODD} marker />}
      />
      <Panel
        id="ph" col={1} row={3} xDomain={[0, 2]} yDomain={[1e-4, 1e1]} logY
        xTicks={freqXTicks} yTicks={psdYTicks}
        render={(x, y) => <PsdBands x={x} y={y} exp={psdEvenExp} model={psdEvenModel} color={C_EVEN} marker />}
      />

      <YLabel x={390} y={rowMid[0]}>
        <tspan>|</tspan><tspan fontStyle="italic">η̂</tspan><tspan>|</tspan>
        {sup("2", " / Δ")}<tspan fontStyle="italic">f</tspan><tspan> (m</tspan>
        {sup("2", " Hz")}{sup("\u22121", ")")}
      </YLabel>
      <YLabel x={390} y={rowMid[1]}>
        <tspan>|</tspan><tspan fontStyle="italic">ξ̂</tspan>{sub("5full", "|")}
        {sup("2", " / Δ")}<tspan fontStyle="italic">f</tspan>
      </YLabel>
      <YLabel x={390} y={rowMid[2]}>
        <tspan>|</tspan><tspan fontStyle="italic">ξ̂</tspan>{sub("5odd", "|")}
        {sup("2", " / Δ")}<tspan fontStyle="italic">f</tspan>
      </YLabel>
      <YLabel x={390} y={rowMid[3]}>
        <tspan>|</tspan><tspan fontStyle="italic">ξ̂</tspan>{sub("5even", "|")}
        {sup("2", " / Δ")}<tspan fontStyle="italic">f</tspan>
      </YLabel>
      <text x={563} y={785} textAnchor="middle" fontSize={25}>
        <tspan fontStyle="italic">f</tspan><tspan> (Hz)</tspan>
      </text>

      {/* ---------- Column 3: exceedance ---------- */}
      <Panel
        id="pi" col={2} row={0} xDomain={[0, 0.1]} yDomain={[Math.pow(10, -3.16), 1]} logY
        xTicks={[{ v: 0, label: "0" }, { v: 0.05, label: "0.05" }, { v: 0.1, label: "0.10" }]}
        yTicks={excYTicks}
        render={(x, y) => (
          <ExcCurves x={x} y={y} exp={excEtaExp} expTail={excEtaExpTail} model={excEtaModel} modelTail={excEtaModelTail} color={C_ETA} />
        )}
      />
      <Panel
        id="pj" col={2} row={1} xDomain={[0, 1]} yDomain={[Math.pow(10, -2.99), 1]} logY
        xTicks={[{ v: 0, label: "0" }, { v: 0.5, label: "0.5" }, { v: 1, label: "0.1" }]}
        yTicks={excYTicks}
        render={(x, y) => (
          <ExcCurves x={x} y={y} exp={excFullExp} expTail={excFullExpTail} model={excFullModel} modelTail={excFullModelTail} color={C_FULL} />
        )}
      />
      <Panel
        id="pk" col={2} row={2} xDomain={[0, 0.6]} yDomain={[Math.pow(10, -3.12), 1]} logY
        xTicks={[0, 0.2, 0.4, 0.6].map((v) => ({ v, label: v === 0 ? "0" : String(v) }))}
        yTicks={excYTicks}
        render={(x, y) => (
          <ExcCurves x={x} y={y} exp={excOddExp} expTail={excOddExpTail} model={excOddModel} modelTail={excOddModelTail} color={C_ODD} />
        )}
      />
      <Panel
        id="pl" col={2} row={3} xDomain={[0, 0.6]} yDomain={[Math.pow(10, -2.81), 1]} logY
        xTicks={[0, 0.2, 0.4, 0.6].map((v) => ({ v, label: v === 0 ? "0" : String(v) }))}
        yTicks={excYTicks}
        render={(x, y) => (
          <ExcCurves x={x} y={y} exp={excEvenExp} expTail={excEvenExpTail} model={excEvenModel} modelTail={excEvenModelTail} color={C_EVEN} />
        )}
      />

      {ROWS.map((r, i) => (
        <YLabel key={"pexc" + i} x={719} y={(r.y0 + r.y1) / 2}>
          <tspan fontStyle="italic">P</tspan>{sub("exc", " (\u2212)")}
        </YLabel>
      ))}
      <text x={888} y={228} textAnchor="middle" fontSize={25}>
        <tspan>|</tspan><tspan fontStyle="italic">η</tspan><tspan>| (m)</tspan>
      </text>
      <text x={895} y={787} textAnchor="middle" fontSize={25}>
        <tspan>|</tspan><tspan fontStyle="italic">ξ</tspan>{sub("5Gpeaks", "| (deg.)")}
      </text>

      {/* ---------- Legend ---------- */}
      <rect x={62} y={816} width={942} height={40} fill="#fff" stroke="#111" strokeWidth={1} />
      {legendItems.map((it, i) => (
        <g key={"lg" + i}>
          <line x1={it.x} x2={it.x + 28} y1={831} y2={831} stroke={it.c} strokeWidth={1.5} />
          <text x={it.tx} y={838} fontSize={20.5}>
            {it.label}
          </text>
        </g>
      ))}
    </svg>
  );
}
